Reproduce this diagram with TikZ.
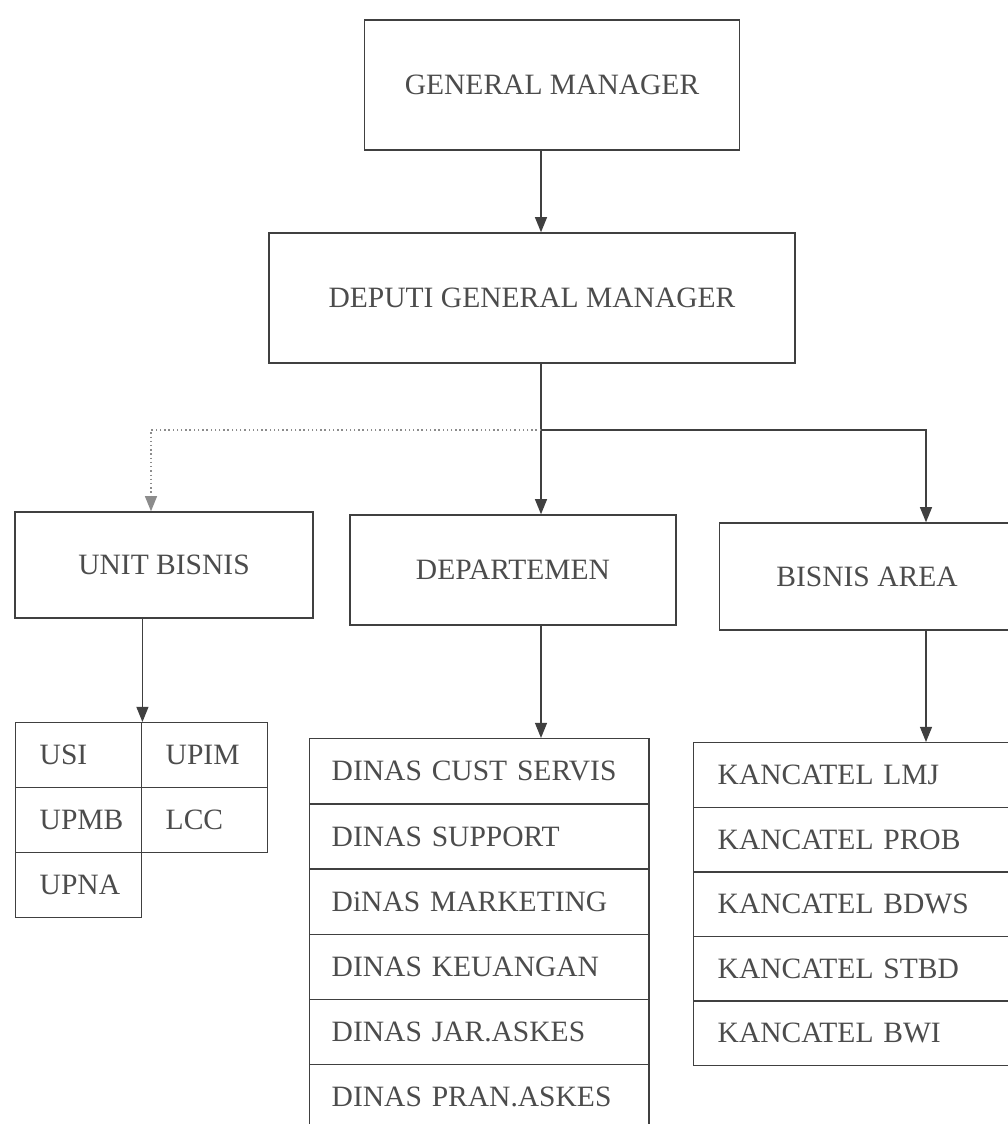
\documentclass[tikz,border=0pt]{standalone}
\usepackage{fontspec}
\setmainfont{Liberation Serif}
\usetikzlibrary{arrows.meta}

\begin{document}
\begin{tikzpicture}[x=0.025cm, y=-0.025cm,
		box/.style={draw=black!75, line width=1pt, text=black!70, font=\fontsize{21}{25}\selectfont, inner sep=0pt},
		cell/.style={box, anchor=north west, align=left},
		unitcell/.style={cell, minimum width=3.15cm, minimum height=1.625cm, inner xsep=0.6cm, text width=1.95cm},
		deptcell/.style={cell, minimum width=8.475cm, minimum height=1.63cm, inner xsep=0.55cm, text width=7.375cm},
		areacell/.style={cell, minimum width=8.1cm, minimum height=1.615cm, inner xsep=0.6cm, text width=6.9cm},
		arr/.style={draw=black!75, line width=1pt, -{Triangle[length=0.38cm, width=0.3cm]}}]
		\useasboundingbox (0,0) rectangle (1007,1124);

		% top of the chart
		\node[box, minimum width=9.375cm, minimum height=3.25cm] (gm) at (552,85) {GENERAL MANAGER};
		\node[box, minimum width=13.15cm, minimum height=3.25cm] (dgm) at (532,298) {DEPUTI GENERAL MANAGER};

		% second level
		\node[box, minimum width=7.45cm, minimum height=2.65cm] (ub) at (164,565) {UNIT BISNIS};
		\node[box, minimum width=8.15cm, minimum height=2.75cm] (dep) at (513,570) {DEPARTEMEN};
		\node[box, minimum width=7.375cm, minimum height=2.675cm] (ba) at (867,576.5) {BISNIS AREA};

		% units
		\node[unitcell] (usi) at (15,722) {USI};
		\node[unitcell] (upim) at (141,722) {UPIM};
		\node[unitcell] (upmb) at (15,787) {UPMB};
		\node[unitcell] (lcc) at (141,787) {LCC};
		\node[unitcell] (upna) at (15,852) {UPNA};

		% dinas
		\foreach \t [count=\i] in {DINAS CUST SERVIS, DINAS SUPPORT, DiNAS MARKETING, DINAS KEUANGAN, DINAS JAR.ASKES, DINAS PRAN.ASKES}
			\node[deptcell] (d\i) at (309, {738+65.2*(\i-1)}) {\t};

		% kancatel
		\foreach \t [count=\i] in {KANCATEL LMJ, KANCATEL PROB, KANCATEL BDWS, KANCATEL STBD, KANCATEL BWI}
			\node[areacell] (k\i) at (693, {742+64.6*(\i-1)}) {\t};

		% connectors
		\coordinate (jn) at (541,430);
		\coordinate (jl) at (151,430);
		\coordinate (jr) at (926,430);
		\draw[arr] (gm.south -| jn) -- (dgm.north -| jn);
		\draw[draw=black!75, line width=1pt] (dgm.south -| jn) -- (jn);
		\draw[arr] (jn) -- (dep.north -| jn);
		\draw[arr, draw=black!45, dotted] (jn) -- (jl) -- (ub.north -| jl);
		\draw[arr] (jn) -- (jr) -- (ba.north -| jr);
		\draw[arr] (ub.south -| usi.north east) -- (usi.north east);
		\draw[arr] (dep.south -| jn) -- (d1.north -| jn);
		\draw[arr] (ba.south -| jr) -- (k1.north -| jr);
	\end{tikzpicture}
\end{document}
